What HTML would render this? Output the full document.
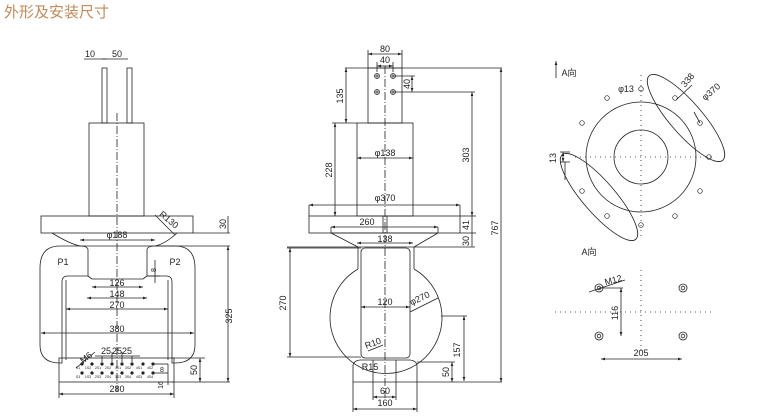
<!DOCTYPE html>
<html><head><meta charset="utf-8"><style>
html,body{margin:0;padding:0;background:#fff;}
svg{display:block;}
text{font-family:"Liberation Sans","Noto Sans CJK SC",sans-serif;fill:#222;}
</style></head><body>
<svg width="760" height="418" viewBox="0 0 760 418" xmlns="http://www.w3.org/2000/svg">
<defs>
<marker id="a" viewBox="0 0 6 6" refX="6" refY="3" markerWidth="5" markerHeight="5" orient="auto-start-reverse"><path d="M0,1 L6,3 L0,5z" fill="#222"/></marker>
</defs>
<text x="4" y="17" style="font-size:15px;fill:#c08a5c;font-family:'Noto Sans CJK SC',sans-serif">外形及安装尺寸</text>
<g fill="none" stroke="#222" stroke-width="0.8" font-size="9">
<!-- LEFT VIEW -->
<line x1="117" y1="113" x2="117" y2="392" stroke-dasharray="8,2,1,2"/>
<rect x="102" y="68" width="5" height="55"/>
<rect x="127" y="68" width="5" height="55"/>
<line x1="84" y1="59" x2="107" y2="59"/><line x1="102" y1="59" x2="128" y2="59"/>
<rect x="89" y="123" width="55" height="93"/>
<rect x="41" y="216" width="152" height="17"/>
<path d="M52,233 Q70,244 80,246 L155,246 Q165,244 177,233"/>
<line x1="193" y1="233" x2="230" y2="233"/><line x1="155" y1="246" x2="230" y2="246"/>
<line x1="80" y1="240" x2="155" y2="240" marker-start="url(#a)" marker-end="url(#a)"/>
<line x1="155" y1="215" x2="175" y2="235"/>
<path d="M80,246 L60,246 Q40,246 40,268 L40,345 Q40,363 60,363 L62,363 L62,282 Q62,276 68,276 L88,276 L88,250 Q88,246 80,246"/>
<path d="M155,246 L175,246 Q195,246 195,268 L195,345 Q195,363 175,363 L172,363 L172,282 Q172,276 166,276 L147,276 L147,250 Q147,246 155,246"/>
<line x1="88" y1="276" x2="92" y2="279"/><line x1="147" y1="276" x2="143" y2="279"/>
<line x1="92" y1="279" x2="143" y2="279"/>
<line x1="66" y1="280" x2="66" y2="360"/><line x1="168" y1="280" x2="168" y2="360"/>
<line x1="92" y1="287" x2="143" y2="287" marker-start="url(#a)" marker-end="url(#a)"/>
<line x1="87" y1="298" x2="147" y2="298" marker-start="url(#a)" marker-end="url(#a)"/>
<line x1="66" y1="309" x2="168" y2="309" marker-start="url(#a)" marker-end="url(#a)"/>
<line x1="41" y1="333" x2="194" y2="333" marker-start="url(#a)" marker-end="url(#a)"/>
<line x1="155" y1="260" x2="155" y2="283"/><line x1="147" y1="276" x2="160" y2="276"/>
<rect x="59" y="358" width="115" height="24"/>
<line x1="59" y1="382" x2="59" y2="398"/><line x1="174" y1="382" x2="174" y2="398"/>
<line x1="59" y1="394" x2="174" y2="394" marker-start="url(#a)" marker-end="url(#a)"/>
<line x1="172" y1="358" x2="205" y2="358"/><line x1="172" y1="382" x2="230" y2="382"/>
<line x1="200" y1="358" x2="200" y2="382" marker-start="url(#a)" marker-end="url(#a)"/>
<line x1="228" y1="246" x2="228" y2="382" marker-start="url(#a)" marker-end="url(#a)"/>
<line x1="228" y1="216" x2="228" y2="233"/>
<line x1="153" y1="364" x2="168" y2="364"/><line x1="153" y1="373" x2="168" y2="373"/>
<line x1="168" y1="364" x2="168" y2="385"/>
<line x1="102" y1="356" x2="102" y2="362"/><line x1="112" y1="352" x2="112" y2="362"/><line x1="122" y1="352" x2="122" y2="362"/><line x1="132" y1="356" x2="132" y2="362"/>
<line x1="95" y1="356" x2="140" y2="356"/>
<line x1="76" y1="368" x2="95" y2="352"/>
<!-- MIDDLE VIEW -->
<line x1="385" y1="66" x2="385" y2="398" stroke-dasharray="8,2,1,2"/>
<rect x="368" y="68" width="34" height="55"/>
<line x1="368" y1="50" x2="368" y2="68"/><line x1="402" y1="50" x2="402" y2="68"/>
<line x1="368" y1="54" x2="402" y2="54" marker-start="url(#a)" marker-end="url(#a)"/>
<line x1="377" y1="62" x2="377" y2="72"/><line x1="393" y1="62" x2="393" y2="72"/>
<line x1="377" y1="66" x2="393" y2="66" marker-start="url(#a)" marker-end="url(#a)"/>
<g stroke-width="0.7"><circle cx="377" cy="76" r="2.5"/><circle cx="393" cy="76" r="2.5"/><circle cx="377" cy="92" r="2.5"/><circle cx="393" cy="92" r="2.5"/>
<path d="M374.5,76h5M377,73.5v5M390.5,76h5M393,73.5v5M374.5,92h5M377,89.5v5M390.5,92h5M393,89.5v5"/></g>
<line x1="345" y1="68" x2="502" y2="68"/>
<line x1="393" y1="76" x2="415" y2="76"/><line x1="412" y1="76" x2="412" y2="92" marker-start="url(#a)" marker-end="url(#a)"/>
<line x1="393" y1="92" x2="475" y2="92"/>
<line x1="346" y1="68" x2="346" y2="123" marker-start="url(#a)" marker-end="url(#a)"/>
<line x1="332" y1="123" x2="357" y2="123"/>
<rect x="357" y="123" width="56" height="93"/>
<line x1="335" y1="123" x2="335" y2="216" marker-start="url(#a)" marker-end="url(#a)"/>
<line x1="357" y1="158" x2="413" y2="158" marker-start="url(#a)" marker-end="url(#a)"/>
<line x1="309" y1="205" x2="460" y2="205" marker-start="url(#a)" marker-end="url(#a)"/>
<line x1="309" y1="205" x2="309" y2="216"/><line x1="460" y1="205" x2="460" y2="216"/>
<rect x="309" y="216" width="151" height="17"/>
<line x1="383" y1="216" x2="383" y2="233"/><line x1="387" y1="216" x2="387" y2="233"/>
<line x1="331" y1="227" x2="438" y2="227" marker-start="url(#a)" marker-end="url(#a)"/>
<line x1="331" y1="227" x2="331" y2="233"/><line x1="438" y1="227" x2="438" y2="233"/>
<path d="M331,233 L358,247 M438,233 L414,247 M331,233 H438"/>
<line x1="357" y1="243" x2="413" y2="243" marker-start="url(#a)" marker-end="url(#a)"/>
<line x1="287" y1="247" x2="475" y2="247"/>
<line x1="358" y1="247" x2="358" y2="269"/><line x1="414" y1="247" x2="414" y2="269"/>
<path d="M358,269 A56,56 0 1 0 414,269"/>
<rect x="361" y="248" width="49" height="110" rx="4"/>
<line x1="287" y1="248" x2="361" y2="248"/><line x1="287" y1="357" x2="361" y2="357"/>
<line x1="290" y1="248" x2="290" y2="357" marker-start="url(#a)" marker-end="url(#a)"/>
<line x1="361" y1="307" x2="410" y2="307" marker-start="url(#a)" marker-end="url(#a)"/>
<line x1="410" y1="312" x2="438" y2="298"/>
<line x1="441" y1="316" x2="467" y2="316"/>
<line x1="464" y1="316" x2="464" y2="381" marker-start="url(#a)" marker-end="url(#a)"/>
<line x1="368" y1="351" x2="383" y2="345"/>
<path d="M353,382 L353,366 Q353,361 360,360 L410,360 Q417,361 417,366 L417,382"/>
<line x1="373" y1="360" x2="373" y2="400"/><line x1="396" y1="360" x2="396" y2="400"/>
<line x1="353" y1="382" x2="353" y2="412"/><line x1="417" y1="382" x2="417" y2="412"/>
<line x1="353" y1="382" x2="502" y2="382"/>
<line x1="417" y1="362" x2="455" y2="362"/>
<line x1="452" y1="362" x2="452" y2="382" marker-start="url(#a)" marker-end="url(#a)"/>
<line x1="501" y1="68" x2="501" y2="382" marker-start="url(#a)" marker-end="url(#a)"/>
<line x1="472" y1="92" x2="472" y2="216" marker-start="url(#a)" marker-end="url(#a)"/>
<line x1="460" y1="216" x2="476" y2="216"/><line x1="460" y1="233" x2="476" y2="233"/>
<line x1="472" y1="216" x2="472" y2="247"/>
<line x1="373" y1="397" x2="396" y2="397" marker-start="url(#a)" marker-end="url(#a)"/>
<line x1="353" y1="409" x2="417" y2="409" marker-start="url(#a)" marker-end="url(#a)"/>
<!-- RIGHT VIEW -->
<line x1="556" y1="78" x2="556" y2="61" marker-end="url(#a)"/>
<g stroke-dasharray="1,4"><line x1="641" y1="75" x2="641" y2="240"/><line x1="575" y1="157" x2="712" y2="157"/>
<line x1="641" y1="270" x2="641" y2="352"/><line x1="555" y1="312" x2="712" y2="312"/></g>
<circle cx="641" cy="157" r="55"/><circle cx="641" cy="157" r="27"/>
<g stroke-width="0.7">
<circle cx="641" cy="89" r="2.3"/><circle cx="675" cy="98" r="2.3"/><circle cx="700" cy="123" r="2.3"/><circle cx="709" cy="157" r="2.3"/><circle cx="700" cy="191" r="2.3"/><circle cx="675" cy="216" r="2.3"/><circle cx="641" cy="225" r="2.3"/><circle cx="607" cy="216" r="2.3"/><circle cx="582" cy="191" r="2.3"/><circle cx="582" cy="123" r="2.3"/><circle cx="607" cy="98" r="2.3"/>
</g>
<ellipse cx="686" cy="118" rx="56" ry="16" transform="rotate(49 686 118)"/>
<ellipse cx="599" cy="197" rx="56" ry="16" transform="rotate(49 599 197)"/>
<line x1="692" y1="85" x2="676" y2="100"/><line x1="694" y1="112" x2="700" y2="123"/>
<line x1="560" y1="152" x2="570" y2="152"/><line x1="560" y1="162" x2="570" y2="162"/>
<line x1="563" y1="152" x2="563" y2="162" marker-start="url(#a)" marker-end="url(#a)"/>
<line x1="565" y1="162" x2="565" y2="180"/>
<g stroke-width="0.8"><circle cx="599" cy="288" r="4"/><circle cx="599" cy="288" r="1.8"/><circle cx="683" cy="288" r="4"/><circle cx="683" cy="288" r="1.8"/><circle cx="599" cy="336" r="4"/><circle cx="599" cy="336" r="1.8"/><circle cx="683" cy="336" r="4"/><circle cx="683" cy="336" r="1.8"/></g>
<line x1="589" y1="292" x2="625" y2="280"/>
<line x1="599" y1="288" x2="623" y2="288"/>
<line x1="621" y1="288" x2="621" y2="336" marker-start="url(#a)" marker-end="url(#a)"/>
<line x1="601" y1="359" x2="682" y2="359" marker-start="url(#a)" marker-end="url(#a)"/>
</g>
<g fill="#222">
<circle cx="82" cy="364" r="1.6"/><circle cx="92" cy="364" r="1.6"/><circle cx="102" cy="364" r="1.6"/><circle cx="112" cy="364" r="1.6"/><circle cx="122" cy="364" r="1.6"/><circle cx="132" cy="364" r="1.6"/><circle cx="143" cy="364" r="1.6"/><circle cx="153" cy="364" r="1.6"/>
<circle cx="82" cy="373" r="1.6"/><circle cx="92" cy="373" r="1.6"/><circle cx="102" cy="373" r="1.6"/><circle cx="112" cy="373" r="1.6"/><circle cx="122" cy="373" r="1.6"/><circle cx="132" cy="373" r="1.6"/><circle cx="143" cy="373" r="1.6"/><circle cx="153" cy="373" r="1.6"/>
</g>
<g font-size="3.5" text-anchor="middle">
<text x="78" y="369">S1</text><text x="88" y="369">1S2</text><text x="98" y="369">2S1</text><text x="108" y="369">2S2</text><text x="118" y="369">3S1</text><text x="128" y="369">3S2</text><text x="139" y="369">4S1</text><text x="150" y="369">4S2</text>
<text x="78" y="378">S3</text><text x="88" y="378">1S3</text><text x="98" y="378">2S3</text><text x="108" y="378">2S4</text><text x="118" y="378">3S3</text><text x="128" y="378">3S4</text><text x="139" y="378">4S3</text><text x="150" y="378">4S4</text>
</g>
<g font-size="9" text-anchor="middle">
<text x="90" y="57">10</text><text x="117" y="57">50</text>
<text x="117" y="238">φ188</text>
<text x="167" y="222" transform="rotate(40 167 222)">R130</text>
<text x="63" y="265">P1</text><text x="175" y="265">P2</text>
<text x="117" y="286">126</text><text x="117" y="297">148</text><text x="117" y="308">270</text><text x="117" y="332">380</text>
<text x="117" y="392">280</text>
<text x="106" y="354">25</text><text x="117" y="354">25</text><text x="127" y="354">25</text>
<text x="88" y="360" transform="rotate(-40 88 360)">M6</text>
<text x="226" y="224" transform="rotate(-90 226 224)">30</text>
<text x="232" y="316" transform="rotate(-90 232 316)">325</text>
<text x="197" y="370" transform="rotate(-90 197 370)">50</text>
<text x="163" y="385" font-size="7" transform="rotate(-90 163 385)">16</text>
<text x="162" y="372" font-size="7">8</text><text x="156" y="270" font-size="7" transform="rotate(-90 156 270)">8</text>
<text x="385" y="52">80</text><text x="385" y="63">40</text>
<text x="343" y="96" transform="rotate(-90 343 96)">135</text>
<text x="410" y="84" transform="rotate(-90 410 84)">40</text>
<text x="332" y="170" transform="rotate(-90 332 170)">228</text>
<text x="385" y="156">φ138</text><text x="385" y="201">φ370</text>
<text x="367" y="225">260</text><text x="385" y="242">138</text>
<text x="469" y="155" transform="rotate(-90 469 155)">303</text>
<text x="469" y="225" transform="rotate(-90 469 225)">41</text>
<text x="469" y="241" transform="rotate(-90 469 241)">30</text>
<text x="498" y="228" transform="rotate(-90 498 228)">767</text>
<text x="286" y="303" transform="rotate(-90 286 303)">270</text>
<text x="385" y="305">120</text>
<text x="421" y="301" transform="rotate(-25 421 301)">φ270</text>
<text x="460" y="350" transform="rotate(-90 460 350)">157</text>
<text x="449" y="372" transform="rotate(-90 449 372)">50</text>
<text x="374" y="346" transform="rotate(-20 374 346)">R10</text>
<text x="370" y="370">R15</text>
<text x="385" y="394">60</text><text x="385" y="406">160</text>
<text x="569" y="76">A向</text>
<text x="626" y="92">φ13</text>
<text x="690" y="82" transform="rotate(-50 690 82)">338</text>
<text x="713" y="94" transform="rotate(-40 713 94)">φ370</text>
<text x="556" y="158" transform="rotate(-90 556 158)">13</text>
<text x="589" y="255">A向</text>
<text x="614" y="283" transform="rotate(-15 614 283)">M12</text>
<text x="618" y="313" transform="rotate(-90 618 313)">116</text>
<text x="641" y="356">205</text>
</g>
</svg>
</body></html>
